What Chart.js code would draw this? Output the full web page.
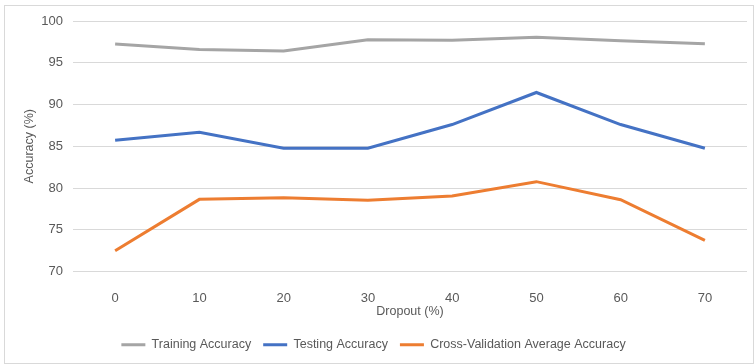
<!DOCTYPE html>
<html>
<head>
<meta charset="utf-8">
<script src="https://cdn.jsdelivr.net/npm/chart.js@4/dist/chart.umd.min.js"></script>
<style>
  html, body { margin: 0; padding: 0; background: #fff; }
  #wrap { width: 754px; height: 364px; position: relative; }
</style>
</head>
<body>
<div id="wrap"><canvas id="chart"></canvas></div>
<script>
const dropout_labels = ["0", "10", "20", "30", "40", "50", "60", "70"];
const training_acc = [97.24, 96.6, 96.4, 97.76, 97.68, 98.04, 97.64, 97.28];
const testing_acc = [85.72, 86.68, 84.76, 84.76, 87.6, 91.44, 87.6, 84.76];
const cv_avg_acc = [72.48, 78.64, 78.84, 78.52, 79.04, 80.76, 78.6, 73.72];

const text_color = "#595959";
const grid_color = "#d9d9d9";
const font_family = "'Liberation Sans', Arial, sans-serif";

// light frame around the whole chart, like the excel export
const framePlugin = {
  id: "frame",
  beforeDraw(chart) {
    const ctx = chart.ctx;
    ctx.save();
    ctx.fillStyle = "#fff";
    ctx.fillRect(0, 0, chart.width, chart.height);
    ctx.strokeStyle = grid_color;
    ctx.lineWidth = 1;
    ctx.strokeRect(4.5, 5.5, chart.width - 5, chart.height - 6);
    ctx.restore();
  },
};

function makeSeries(label, values, color) {
  return {
    label: label,
    data: values,
    borderColor: color,
    backgroundColor: color,
    borderWidth: 3,
    pointRadius: 0,
    pointStyle: "line",
    tension: 0,
  };
}

const config = {
  type: "line",
  data: {
    labels: dropout_labels,
    datasets: [
      makeSeries("Training Accuracy", training_acc, "#a5a5a5"),
      makeSeries("Testing Accuracy", testing_acc, "#4472c4"),
      makeSeries("Cross-Validation Average Accuracy", cv_avg_acc, "#ed7d31"),
    ],
  },
  options: {
    responsive: true,
    maintainAspectRatio: false,
    animation: false,
    layout: { padding: { top: 21, right: 7, left: 0, bottom: 3 } },
    plugins: {
      tooltip: { enabled: false },
      legend: {
        position: "bottom",
        labels: {
          usePointStyle: true,
          pointStyle: "line",
          pointStyleWidth: 24,
          padding: 12,
          color: text_color,
          font: { family: font_family, size: 12.5 },
        },
      },
    },
    scales: {
      x: {
        offset: true,
        grid: { display: false },
        border: { display: false },
        ticks: { color: text_color, padding: 11, font: { family: font_family, size: 13 } },
        title: {
          display: true,
          text: "Dropout (%)",
          color: text_color,
          font: { family: font_family, size: 12.5 },
          padding: { top: 0, bottom: 7 },
        },
        afterFit(scale) { scale.height = 55; },
      },
      y: {
        min: 70,
        max: 100,
        ticks: { stepSize: 5, color: text_color, padding: 10, font: { family: font_family, size: 13 } },
        grid: { color: grid_color, drawTicks: false },
        border: { display: false },
        title: {
          display: true,
          text: "Accuracy (%)",
          color: text_color,
          font: { family: font_family, size: 12.5 },
          padding: { top: 22, bottom: 0 },
        },
        afterFit(scale) { scale.width = 73; },
      },
    },
  },
  plugins: [framePlugin],
};

new Chart(document.getElementById("chart"), config);
</script>
</body>
</html>
